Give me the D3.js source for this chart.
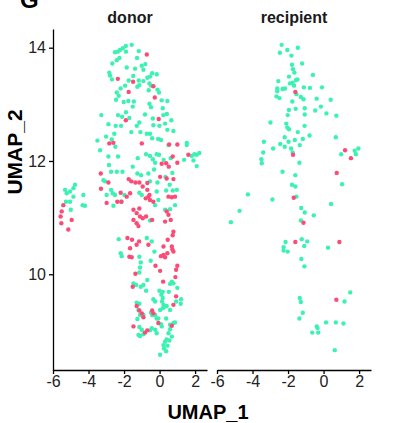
<!DOCTYPE html>
<html>
<head>
<meta charset="utf-8">
<script src="https://cdn.jsdelivr.net/npm/d3@7"></script>
<style>
  body { margin: 0; background: #fff; }
  text { font-family: "Liberation Sans", Arial, sans-serif; }
</style>
</head>
<body>
<svg id="chart" width="393" height="423"></svg>
<script>
// UMAP coordinates [UMAP_1, UMAP_2]
const donorTeal = [
  [-1.57,14.05],[-1.90,14.03],[-2.07,13.99],[-2.23,13.96],[-2.35,13.93],[-2.51,13.92],[-1.89,13.93],[-1.17,13.94],
  [-2.26,13.82],[-2.41,13.78],[-2.66,13.72],[-1.27,13.82],[-0.80,13.71],[-1.00,13.68],[-1.85,13.65],[-1.38,13.63],
  [-0.91,13.61],[-2.83,13.56],[-2.79,13.51],[-2.68,13.44],[-0.42,13.55],[-0.16,13.53],[-0.54,13.49],[-0.69,13.47],
  [-1.48,13.50],[-1.74,13.42],[-1.17,13.42],[-0.91,13.41],[-1.14,13.34],[-1.25,13.31],[-0.57,13.37],[-0.48,13.33],
  [-0.61,13.25],[-0.12,13.26],[-0.03,13.21],[-1.94,13.33],[-2.19,13.28],[-2.41,13.21],[-2.30,13.15],[-2.45,13.08],
  [-1.76,13.06],[-2.02,13.04],[-1.45,13.05],[-1.51,12.96],[-0.57,13.01],[-0.48,12.95],[0.12,13.07],[0.44,13.06],
  [0.18,12.93],[-1.89,12.86],[-2.34,12.81],[-2.11,12.78],[-1.70,12.76],[-3.28,12.81],[-0.82,12.82],[-0.38,12.75],
  [0.21,12.81],[0.41,12.83],[0.66,12.72],[-1.14,12.68],[-1.28,12.62],[-2.88,12.65],[-2.47,12.62],[-2.17,12.62],
  [-0.35,12.63],[-0.01,12.62],[0.31,12.66],[0.44,12.55],[0.78,12.53],[-1.59,12.51],[-1.08,12.51],[-0.72,12.48],
  [-0.54,12.48],[-2.55,12.48],[-3.01,12.43],[-3.50,12.36],[-2.69,12.38],[-0.08,12.39],[-0.42,12.40],[0.08,12.37],
  [1.53,12.32],
  [-3.35,12.19],[-2.49,12.25],[-2.88,12.08],[-2.34,12.08],[-2.85,11.93],[-2.73,11.81],[-2.41,11.81],[-2.09,11.81],
  [-1.23,12.05],[-0.76,12.12],[-0.16,12.12],[-0.03,12.11],[-0.54,12.09],[-0.38,12.03],[-0.25,11.97],[0.23,12.02],
  [0.63,12.05],[0.50,12.28],[1.53,12.28],[1.38,12.02],[1.81,12.09],[1.96,12.12],[2.09,12.11],[2.24,12.14],
  [1.91,12.01],[2.09,11.91],[-1.51,11.90],[-1.25,11.78],[-1.04,11.75],[-0.63,11.78],[-0.31,11.85],[-0.54,11.64],
  [-0.12,11.62],[0.33,11.72],[0.72,11.79],[-3.16,11.66],[-3.07,11.64],[-2.73,11.49],[-2.64,11.43],[-2.98,11.40],
  [-2.51,11.40],[-1.98,11.40],[-1.14,11.44],[-1.00,11.40],[-0.16,11.46],[-0.07,11.31],[0.37,11.48],[0.74,11.48],
  [0.97,11.49],[0.57,11.58],[-2.15,11.28],[-2.60,11.21],[-4.76,11.58],[-4.85,11.52],[-5.04,11.46],[-5.32,11.49],
  [-5.23,11.43],[-4.85,11.37],[-5.04,11.28],[-5.27,11.28],[-4.29,11.40],[-4.33,11.22],[-4.20,11.21],[-5.00,11.14],
  [-0.25,11.22],[0.31,11.14],[0.59,11.15],[0.87,11.22],[-0.54,10.95],[-2.30,10.62],[-0.72,10.64],[-0.44,10.58],
  [-2.19,10.37],[-2.13,10.32],[-1.14,10.31],[-1.06,10.21],[-1.10,10.12],[-1.14,10.03],[-0.50,10.24],[-0.29,10.40],
  [-0.69,9.90],[-1.47,9.84],[-1.32,9.81],[-1.06,9.78],[-0.91,9.81],[-0.76,9.71],[-0.01,9.71],[0.18,9.69],
  [0.52,9.69],[0.10,9.64],[0.18,9.58],[0.14,9.52],[0.22,9.46],[1.00,9.76],[0.69,9.87],[0.59,9.83],
  [0.78,9.84],[-0.35,9.56],[-0.25,9.52],[0.93,9.52],[1.21,9.56],[1.19,9.48],[-1.29,9.50],[-1.14,9.48],
  [-1.19,9.37],[-1.10,9.28],[-1.25,9.21],[-0.91,9.28],[-0.48,9.32],[-0.42,9.28],[-0.25,9.28],[-0.16,9.22],
  [0.03,9.37],[0.18,9.40],[0.31,9.43],[0.40,9.44],[0.59,9.37],[-0.07,9.22],[0.37,9.22],[0.08,9.12],
  [0.12,9.08],[-0.44,9.05],[-0.54,9.01],[-0.25,9.02],[-0.16,8.96],[-1.14,9.07],[-1.00,9.02],[-1.19,8.93],
  [-0.91,8.94],[0.59,9.11],[0.78,9.14],[0.87,9.15],[0.59,9.03],[0.50,8.96],[0.69,8.90],[0.40,8.85],
  [0.31,8.81],[0.55,8.83],[0.22,8.75],[0.44,8.74],[0.25,8.69],[0.37,8.64],[0.03,8.58],[-1.10,8.91]
];

const donorPink = [
  [-0.72,13.88],[-2.35,13.45],[-1.49,13.40],[-0.35,13.32],[-1.74,13.22],[-0.27,13.12],[-1.90,12.72],[-0.05,12.74],
  [-1.00,12.31],[0.54,12.29],[1.00,12.29],[-2.83,12.31],[-2.60,12.32],
  [-3.31,11.78],[-3.30,11.51],[-2.88,11.62],[-2.98,11.26],[-1.74,11.68],[-1.59,11.64],[-1.36,11.62],[-1.66,11.43],
  [-1.85,11.37],[-2.19,11.44],[-2.15,11.28],[-2.38,11.28],[-1.14,11.62],[-0.95,11.55],[-0.69,11.61],[0.03,11.72],
  [0.40,11.69],[0.78,11.68],[0.52,11.90],[1.00,11.97],[1.62,12.11],[0.37,11.96],[0.74,12.08],[0.12,11.95],
  [-0.78,11.34],[-0.63,11.37],[-0.54,11.31],[-0.35,11.28],[-0.57,11.40],[-0.69,11.49],[0.50,11.37],[0.69,11.36],
  [0.87,11.37],[-1.14,11.16],[-1.47,11.14],[-1.29,11.08],[-1.10,11.02],[-0.76,11.02],[-0.95,10.99],[-1.47,10.96],
  [-1.29,10.90],[-1.19,10.85],[-0.42,10.96],[0.40,11.11],[0.50,11.05],[0.63,10.96],[0.31,10.93],[0.78,10.75],
  [0.74,10.69],[0.46,10.61],[-1.81,10.64],[-1.55,10.61],[-1.15,10.58],[-1.29,10.52],[-1.66,10.46],[-0.63,10.52],
  [0.22,10.49],[0.69,10.49],[-5.42,11.22],[-5.51,11.11],[-5.57,11.02],[-5.53,10.90],[-4.95,10.96],[-5.14,10.79],
  [0.78,10.40],[0.22,10.34],[0.44,10.37],[0.08,10.32],[0.31,10.30],[0.72,10.44],[-1.70,10.31],[-1.57,10.30],
  [0.03,10.06],[-0.23,10.15],[1.00,10.15],[0.93,10.08],[0.89,9.95],[-1.36,10.01],[0.20,9.87],[-1.51,9.78],
  [0.93,9.61],[0.78,9.46],[-1.29,9.44],[-1.14,9.36],[-1.00,9.31],[-0.91,9.24],[-0.42,9.36],[-0.35,9.31],
  [-1.47,9.08],[-0.69,9.01],[-0.82,8.97],[-0.07,9.14],[0.69,9.09]
];

const recipientTeal = [
  [-2.36,14.05],[-2.04,13.96],[-1.45,14.00],[-2.46,13.91],[-1.81,13.86],[-1.21,13.72],[-1.78,13.70],[-1.72,13.62],
  [-1.64,13.56],[-0.60,13.52],[-1.95,13.49],[-1.47,13.44],[-1.55,13.43],[-2.55,13.41],[-1.89,13.37],[-1.74,13.38],
  [-1.66,13.33],[-2.17,13.28],[-2.31,13.27],[-2.61,13.28],[-2.61,13.23],[-1.11,13.30],[-0.77,13.29],[-0.09,13.30],
  [-1.53,13.18],[-1.28,13.13],[-1.13,13.09],[-2.65,13.14],[-2.48,13.11],[-0.39,13.10],[0.40,13.08],[-1.76,13.05],
  [-0.15,12.96],[-1.95,12.90],[-1.57,12.92],[-1.06,12.93],[-0.47,12.89],[0.16,12.84],[0.72,12.80],[-2.02,12.81],
  [-1.06,12.82],[-2.99,12.68],[-2.10,12.66],[-1.07,12.62],[-2.04,12.59],[-1.95,12.56],[-1.45,12.51],[-2.19,12.42],
  [-1.97,12.34],[-1.62,12.37],[-1.17,12.39],[-0.79,12.45],[0.69,12.42],[-3.36,12.34],[-2.44,12.30],[-2.19,12.25],
  [-1.83,12.22],[-1.34,12.28],[-2.84,12.22],[-3.40,12.15],[-1.74,12.15],[-3.50,12.03],[-3.48,11.96],[-1.36,11.97],
  [0.99,12.12],[1.75,12.18],[1.96,12.22],[1.82,12.12],
  [-2.31,11.81],[-1.59,11.75],[1.04,11.59],[-1.78,11.58],[-1.59,11.55],[-4.26,11.41],[-2.88,11.32],[-1.53,11.37],
  [0.42,11.24],[-4.73,11.12],[-1.26,11.17],[-1.06,11.09],[-0.55,11.04],[-1.28,10.95],[-5.22,10.92],[-1.23,10.62],
  [-2.14,10.57],[-0.92,10.58],[-1.09,10.50],[-2.25,10.48],[-2.25,10.42],[-2.02,10.40],[0.25,10.47],[-1.25,10.27],
  [-1.08,10.14],[-1.34,9.58],[-1.28,9.51],[1.50,9.68],[1.18,9.52],[-1.17,9.32],[-1.36,9.22],[0.14,9.15],
  [0.69,9.15],[1.12,9.13],[-0.38,9.08],[-0.34,9.05],[-0.64,8.97],[-0.30,8.97],[0.63,8.66]
];

const recipientPink = [
  [-1.59,13.22],[-1.72,12.11],[1.21,12.19],[1.54,12.05],
  [0.74,11.79],[-1.68,11.35],[-1.13,10.91],[-1.59,10.57],[0.89,10.57],[0.72,9.55]
];

const panels = ["donor", "recipient"];
const xTicks = [-6, -4, -2, 0, 2];
const yTicks = [10, 12, 14];
const colors = { teal: "#3cf2b2", pink: "#fa4c76" };

const svg = d3.select("#chart");
const plotTop = 29, plotBottom = 370, panelW = 154;
const panelLeft = [53, 217];

const x = d3.scaleLinear().domain([-6, 2.67]).range([0, panelW]);
const y = d3.scaleLinear().domain([8.31, 14.33]).range([plotBottom, plotTop]);
const fmt = d => String(d); // plain hyphen minus like R

const groups = [
  { teal: donorTeal, pink: donorPink },
  { teal: recipientTeal, pink: recipientPink }
];

function styleAxis(sel) {
  sel.select(".domain").attr("stroke", "#000").attr("stroke-width", 1.3);
  sel.selectAll(".tick line").attr("stroke", "#000").attr("stroke-width", 1.3);
  sel.selectAll(".tick text").attr("font-size", 16).attr("fill", "#222")
    .attr("font-family", "Liberation Sans, Arial, sans-serif");
}

panels.forEach((name, i) => {
  const g = svg.append("g").attr("transform", `translate(${panelLeft[i]},0)`);

  // strip label
  g.append("text")
    .attr("x", panelW / 2).attr("y", 23)
    .attr("text-anchor", "middle")
    .attr("font-size", 16).attr("font-weight", "bold")
    .attr("fill", "#1a1a1a")
    .text(name);

  // points
  [["teal", groups[i].teal], ["pink", groups[i].pink]].forEach(([key, pts]) => {
    g.selectAll(null).data(pts).enter().append("circle")
      .attr("cx", d => x(d[0]))
      .attr("cy", d => y(d[1]))
      .attr("r", 2.2)
      .attr("fill", colors[key]);
  });

  // x axis
  const xa = g.append("g")
    .attr("transform", `translate(0,${plotBottom})`)
    .call(d3.axisBottom(x).tickValues(xTicks).tickFormat(fmt)
      .tickSize(4).tickSizeOuter(0).tickPadding(2));
  styleAxis(xa);

  if (i === 0) {
    const ya = g.append("g")
      .call(d3.axisLeft(y).tickValues(yTicks).tickFormat(fmt)
        .tickSize(4).tickSizeOuter(0).tickPadding(3));
    styleAxis(ya);
  }
});

// axis titles
svg.append("text")
  .attr("x", 208).attr("y", 419)
  .attr("text-anchor", "middle")
  .attr("font-size", 20).attr("font-weight", "bold")
  .text("UMAP_1");

svg.append("text")
  .attr("transform", "translate(22,152) rotate(-90)")
  .attr("text-anchor", "middle")
  .attr("font-size", 21).attr("font-weight", "bold")
  .text("UMAP_2");

// panel letter, cut at the top edge as in the source figure
svg.append("text")
  .attr("x", 20).attr("y", 8)
  .attr("font-size", 24).attr("font-weight", "bold")
  .text("G");
</script>
</body>
</html>
